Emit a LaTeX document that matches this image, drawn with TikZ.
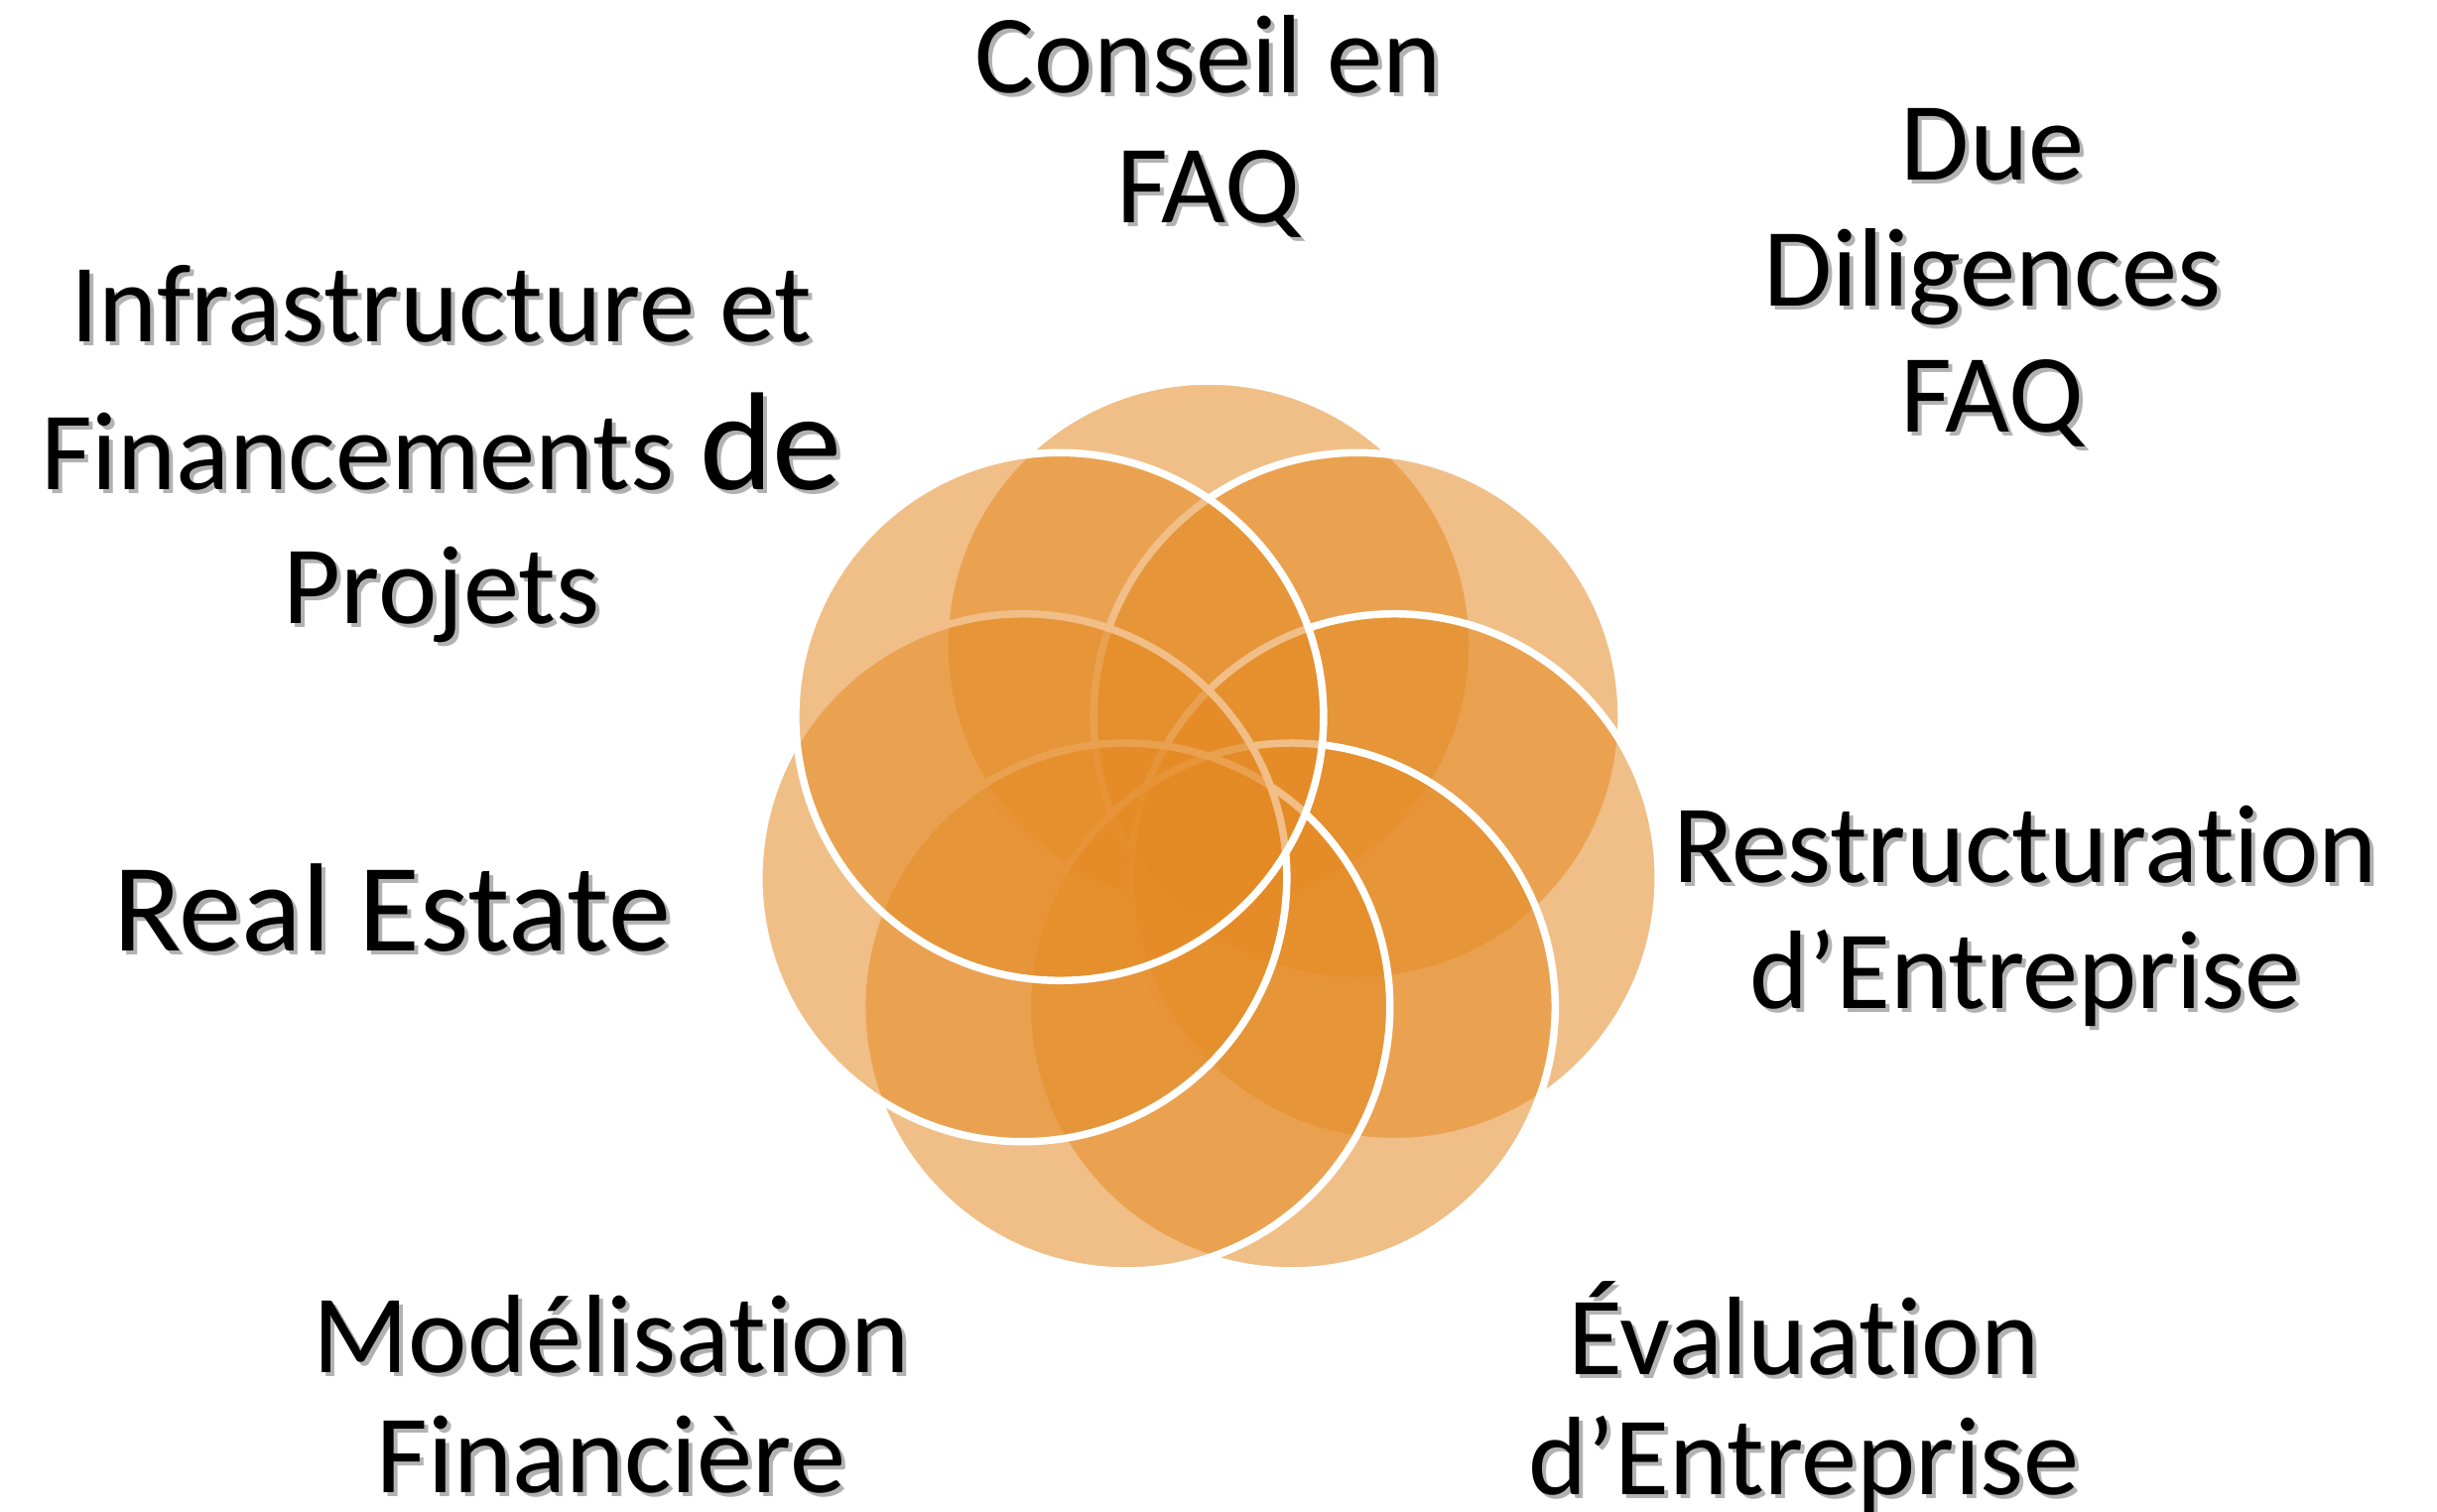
\documentclass[tikz,border=0pt]{standalone}
\usepackage{fontspec}
\setmainfont[Ligatures={TeX,NoCommon}]{Carlito}
\usepackage{tikz}

\definecolor{petalorange}{RGB}{228,138,36}

\tikzset{
  petal/.style={fill=petalorange, fill opacity=0.55, draw=white, line width=0.75mm},
  lbl/.style={anchor=base, align=center, inner sep=0pt, text=black},
}

% label with a soft grey shadow (placed at the baseline of its last line)
\newcommand{\shadowlabel}[4]{%
  \node[lbl, #3, opacity=0.3, xshift=0.4mm, yshift=-0.4mm] (#1-shadow) at (#2) {#4};
  \node[lbl, #3] (#1) at (#2) {#4};
}

\begin{document}
\begin{tikzpicture}
    \useasboundingbox (0,0) rectangle (24.56,-15.24);

    % Seven overlapping circles
    \coordinate (flower) at (12.18,-8.42);
    \foreach \i in {0,...,6}
        \draw[petal] (flower) ++({90-\i*360/7}:1.92) circle (2.66);

    % Labels
    \shadowlabel{conseil}{12.18,-2.24}{font=\fontsize{32}{37}\selectfont}{Conseil en\\FAQ}
    \shadowlabel{due}{20.08,-4.35}{font=\fontsize{32}{36}\selectfont}{Due\\Diligences\\FAQ}
    \shadowlabel{infra}{4.45,-6.28}{font=\fontsize{32}{38.4}\selectfont}{Infrastructure et\\[4pt]Financements {\fontsize{40}{44}\selectfont de}\\Projets}
    \shadowlabel{real}{3.95,-9.58}{font=\fontsize{36}{40}\selectfont}{Real Estate}
    \shadowlabel{restr}{20.41,-10.16}{font=\fontsize{32}{36}\selectfont}{Restructuration\\d’Entreprise}
    \shadowlabel{model}{6.16,-15.04}{font=\fontsize{32}{34.4}\selectfont}{Modélisation\\Financière}
    \shadowlabel{eval}{18.18,-15.06}{font=\fontsize{32}{34.4}\selectfont}{Évaluation\\d’Entreprise}
\end{tikzpicture}
\end{document}
